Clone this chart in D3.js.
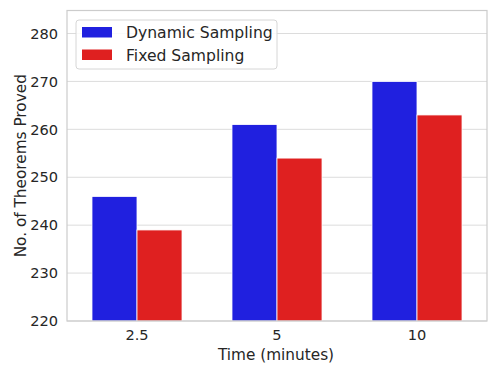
<!DOCTYPE html>
<html>
<head>
<meta charset="utf-8">
<script src="https://cdn.jsdelivr.net/npm/d3@7"></script>
<style>
  body { margin: 0; background: #fff; }
  text { font-family: "DejaVu Sans", sans-serif; fill: #262626; }
</style>
</head>
<body>
<svg id="chart" width="498" height="374"></svg>
<script>
var categories = ['2.5', '5', '10']
var seriesNames = ['Dynamic Sampling', 'Fixed Sampling']
var dynamicValues = [246, 261, 270]
var fixedValues = [239, 254, 263]
var yTicks = [220, 230, 240, 250, 260, 270, 280]
var colors = ['#2020df', '#df2020']

var margin = { left: 67, right: 11, top: 10.5, bottom: 53 }
var W = 498, H = 374
var svg = d3.select('#chart')

var x = d3.scaleBand()
  .domain(categories)
  .range([margin.left, W - margin.right])
  .paddingInner(0)
  .paddingOuter(0)

var sub = d3.scaleBand()
  .domain(seriesNames)
  .range([0, x.bandwidth()])
  .paddingOuter(0.555)

var y = d3.scaleLinear()
  .domain([220, 284.8])
  .range([H - margin.bottom, margin.top])

// grid lines
svg.append('g')
  .selectAll('line')
  .data(yTicks)
  .enter()
  .append('line')
  .attr('x1', margin.left)
  .attr('x2', W - margin.right)
  .attr('y1', (d) => y(d))
  .attr('y2', (d) => y(d))
  .attr('stroke', '#dcdcdc')
  .attr('stroke-width', 1)

// bars
var rows = categories.map((c, i) => ({ cat: c, vals: [dynamicValues[i], fixedValues[i]] }))

svg.append('g')
  .selectAll('g')
  .data(rows)
  .enter()
  .append('g')
  .attr('transform', (d) => `translate(${x(d.cat)},0)`)
  .selectAll('rect')
  .data((d) => d.vals.map((v, j) => ({ name: seriesNames[j], v: v, j: j })))
  .enter()
  .append('rect')
  .attr('x', (d) => sub(d.name))
  .attr('width', sub.bandwidth())
  .attr('y', (d) => y(d.v))
  .attr('height', (d) => y(220) - y(d.v))
  .attr('fill', (d) => colors[d.j])
  .attr('stroke', '#fff')
  .attr('stroke-width', 0.8)

// frame
svg.append('rect')
  .attr('x', margin.left)
  .attr('y', margin.top)
  .attr('width', W - margin.left - margin.right)
  .attr('height', H - margin.top - margin.bottom)
  .attr('fill', 'none')
  .attr('stroke', '#cccccc')
  .attr('stroke-width', 1.2)

// y axis
var yAxis = svg.append('g')
  .attr('transform', `translate(${margin.left},0)`)
  .call(d3.axisLeft(y).tickValues(yTicks).tickSize(0).tickPadding(9))
yAxis.select('.domain').remove()
yAxis.selectAll('text').attr('font-size', 14.6).attr('font-family', 'DejaVu Sans').attr('fill', '#262626')

// x axis
var xAxis = svg.append('g')
  .attr('transform', `translate(0,${H - margin.bottom})`)
  .call(d3.axisBottom(x).tickSize(0).tickPadding(9))
xAxis.select('.domain').remove()
xAxis.selectAll('text').attr('font-size', 14.6).attr('font-family', 'DejaVu Sans').attr('fill', '#262626')

// axis labels
svg.append('text')
  .attr('x', 276)
  .attr('y', 360)
  .attr('text-anchor', 'middle')
  .attr('font-size', 15.3)
  .text('Time (minutes)')

svg.append('text')
  .attr('transform', `translate(25.5,${(margin.top + H - margin.bottom) / 2}) rotate(-90)`)
  .attr('text-anchor', 'middle')
  .attr('font-size', 15.3)
  .text('No. of Theorems Proved')

// legend
var legend = svg.append('g').attr('transform', 'translate(76,20)')
legend.append('rect')
  .attr('width', 201)
  .attr('height', 49)
  .attr('rx', 3)
  .attr('fill', '#fff')
  .attr('fill-opacity', 0.85)
  .attr('stroke', '#d6d6d6')
  .attr('stroke-width', 1)

seriesNames.forEach((name, i) => {
  legend.append('rect')
    .attr('x', 6)
    .attr('y', 7 + i * 22.5)
    .attr('width', 30)
    .attr('height', 10.5)
    .attr('fill', colors[i])
  legend.append('text')
    .attr('x', 50)
    .attr('y', 12.5 + i * 22.5)
    .attr('dy', '0.36em')
    .attr('font-size', 15.6)
    .text(name)
})
</script>
</body>
</html>
